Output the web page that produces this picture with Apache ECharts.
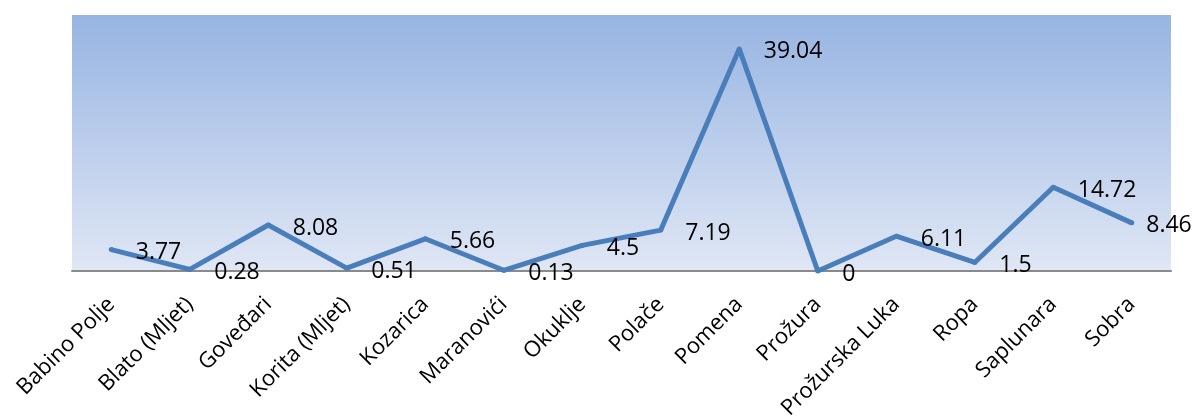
<!DOCTYPE html>
<html>
<head>
<meta charset="utf-8">
<script src="https://cdn.jsdelivr.net/npm/echarts@6/dist/echarts.min.js"></script>
<style>html,body{margin:0;padding:0;background:#fff}#c{width:1196px;height:419px}</style>
</head>
<body>
<div id="c"></div>
<script>
const categories = ['Babino Polje','Blato (Mljet)','Goveđari','Korita (Mljet)','Kozarica','Maranovići','Okuklje','Polače','Pomena','Prožura','Prožurska Luka','Ropa','Saplunara','Sobra'];
const values = [3.77, 0.28, 8.08, 0.51, 5.66, 0.13, 4.5, 7.19, 39.04, 0, 6.11, 1.5, 14.72, 8.46];

const FONT = '"Open Sans", sans-serif';
const seriesData = values.map((v, i) => i === values.length - 1
  ? {value: v, label: {distance: 12}}
  : v);

const chart = echarts.init(document.getElementById('c'), null, {renderer: 'canvas'});
chart.setOption({
  animation: false,
  grid: {
    left: 72, right: 25, top: 15, bottom: 148,
    containLabel: false,
    outerBoundsMode: 'none',
    show: true, borderWidth: 0,
    backgroundColor: new echarts.graphic.LinearGradient(0, 0, 0, 1, [
      {offset: 0, color: '#97b4e2'},
      {offset: 1, color: '#e0e7f5'}
    ])
  },
  xAxis: {
    type: 'category',
    data: categories,
    boundaryGap: true,
    axisLine: {lineStyle: {color: '#8a8a8a', width: 2}},
    axisTick: {show: false},
    axisLabel: {rotate: 45, margin: 30, color: '#000', fontSize: 22, fontFamily: FONT, interval: 0}
  },
  yAxis: {
    type: 'value', min: 0, max: 45,
    show: false,
    splitLine: {show: false}
  },
  series: [{
    type: 'line',
    data: seriesData,
    symbol: 'circle',
    symbolSize: 5,
    itemStyle: {color: '#4a7ebb'},
    lineStyle: {color: '#4a7ebb', width: 5},
    label: {
      show: true, position: 'right', distance: 22, offset: [0, 3],
      color: '#000', fontSize: 23, fontFamily: FONT
    }
  }]
});
</script>
</body>
</html>
